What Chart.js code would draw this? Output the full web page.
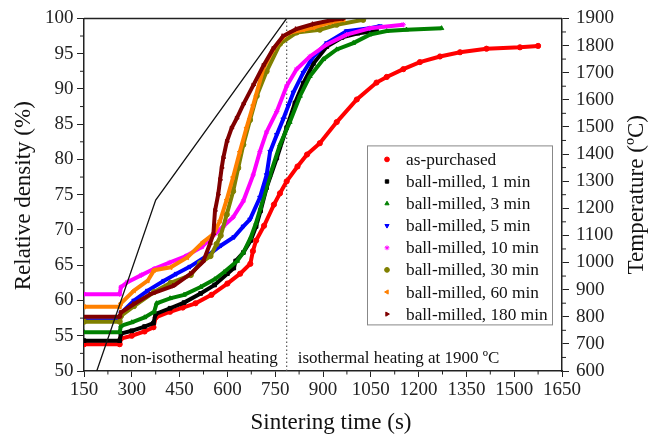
<!DOCTYPE html>
<html>
<head>
<meta charset="utf-8">
<script src="https://cdn.jsdelivr.net/npm/chart.js@4.4.1/dist/chart.umd.min.js"></script>
<style>
  html, body { margin: 0; padding: 0; background: #fff; }
  canvas { display: block; }
</style>
</head>
<body>
<canvas id="chart" width="650" height="437"></canvas>
<script>
// relative density (%) vs sintering time (s)
const asPurchasedTime = [150, 262, 266, 300, 340, 368, 375, 420, 460, 500, 550, 600, 640, 672, 680, 690, 715, 746, 765, 786, 820, 850, 890, 943, 1006, 1068, 1100, 1152, 1204, 1267, 1330, 1413, 1518, 1575];
const asPurchasedDensity = [53.8, 53.8, 54.6, 55.0, 55.6, 56.2, 57.6, 58.4, 59.0, 59.6, 60.8, 62.4, 63.8, 65.2, 67.0, 68.5, 70.6, 73.6, 75.2, 76.9, 79.0, 80.7, 82.3, 85.3, 88.5, 90.9, 91.7, 92.8, 93.8, 94.6, 95.2, 95.7, 95.9, 96.1];

const milled1Time = [150, 262, 266, 300, 340, 368, 375, 420, 464, 516, 560, 600, 620, 626, 650, 673, 690, 704, 723, 755, 786, 812, 838, 870, 912, 960, 1010, 1068];
const milled1Density = [54.3, 54.3, 55.3, 55.7, 56.3, 56.8, 58.1, 58.9, 59.7, 61.0, 62.2, 63.8, 64.6, 65.6, 66.8, 68.5, 70.5, 72.7, 76.0, 80.2, 84.5, 88.0, 90.8, 93.6, 96.0, 97.3, 97.9, 98.2];

const milled3Time = [150, 262, 266, 300, 340, 370, 378, 420, 464, 516, 560, 589, 631, 650, 673, 690, 704, 734, 765, 796, 828, 859, 901, 943, 995, 1047, 1100, 1162, 1272];
const milled3Density = [55.5, 55.5, 56.4, 56.9, 57.6, 58.4, 59.6, 60.3, 60.8, 61.9, 63.0, 64.0, 65.6, 66.8, 68.9, 71.0, 73.1, 77.8, 82.1, 85.3, 89.0, 91.8, 94.2, 95.6, 96.5, 97.7, 98.2, 98.4, 98.6];

const milled5Time = [150, 262, 266, 307, 350, 401, 440, 483, 545, 580, 621, 650, 671, 702, 723, 734, 755, 775, 791, 807, 838, 870, 912, 974, 1047, 1079];
const milled5Density = [57.2, 57.2, 58.2, 60.0, 61.4, 62.8, 63.8, 64.8, 66.6, 67.8, 69.0, 70.5, 71.5, 74.6, 77.8, 81.1, 83.5, 85.7, 87.6, 89.5, 92.3, 94.6, 96.5, 98.2, 98.6, 98.9];

const milled10Time = [150, 262, 266, 286, 330, 370, 420, 470, 520, 547, 589, 618, 650, 681, 702, 723, 755, 786, 817, 859, 912, 974, 1047, 1152];
const milled10Density = [60.9, 60.9, 61.9, 62.6, 63.6, 64.5, 65.4, 66.3, 67.6, 68.8, 70.6, 71.8, 74.1, 77.8, 81.1, 83.9, 86.8, 90.4, 92.8, 94.6, 96.3, 97.7, 98.6, 99.1];

const milled30Time = [150, 262, 266, 307, 370, 422, 485, 514, 547, 566, 579, 598, 618, 634, 650, 671, 692, 723, 765, 817, 890, 943, 1026];
const milled30Density = [57.0, 57.0, 57.8, 59.2, 61.2, 62.5, 63.6, 65.3, 66.3, 68.0, 69.2, 72.2, 75.5, 78.8, 82.1, 85.6, 89.0, 92.5, 96.4, 98.0, 98.4, 99.1, 99.8];

const milled60Time = [150, 262, 266, 307, 350, 370, 422, 474, 524, 556, 577, 598, 618, 639, 660, 681, 713, 744, 775, 796, 838, 870, 920, 965];
const milled60Density = [59.1, 59.1, 59.6, 61.4, 62.8, 64.3, 64.7, 66.1, 68.3, 69.4, 71.3, 74.3, 77.5, 81.1, 84.5, 87.7, 92.9, 95.6, 97.4, 98.0, 98.4, 98.7, 99.4, 99.8];

const milled180Time = [150, 262, 266, 307, 359, 432, 485, 524, 545, 556, 561, 571, 577, 582, 587, 598, 613, 629, 650, 681, 713, 744, 775, 817, 870, 932, 965];
const milled180Density = [57.7, 57.7, 58.3, 59.5, 60.9, 62.1, 63.8, 65.5, 68.0, 69.4, 72.7, 75.0, 77.1, 78.8, 80.2, 82.5, 84.4, 85.8, 87.8, 90.5, 93.3, 95.7, 97.5, 98.5, 99.2, 99.8, 100.0];

const seriesLabels = ['as-purchased', 'ball-milled, 1 min', 'ball-milled, 3 min', 'ball-milled, 5 min',
  'ball-milled, 10 min', 'ball-milled, 30 min', 'ball-milled, 60 min', 'ball-milled, 180 min'];

// furnace temperature program (right axis)
const tempTime = [190, 375, 786, 1650];
const tempValue = [600, 1230, 1900, 1900];

// start of the isothermal hold
const holdStart = 786;

const seriesData = [
  [asPurchasedTime, asPurchasedDensity],
  [milled1Time, milled1Density],
  [milled3Time, milled3Density],
  [milled5Time, milled5Density],
  [milled10Time, milled10Density],
  [milled30Time, milled30Density],
  [milled60Time, milled60Density],
  [milled180Time, milled180Density]
];

const colors = ['#ff0000', '#000000', '#008000', '#0000ff', '#ff00ff', '#808000', '#ff8000', '#800000'];
const shapes = ['circle', 'rect', 'triangle', 'triangle', 'star', 'circle', 'triangle', 'triangle'];
const rotations = [0, 0, 0, 180, 0, 0, -90, 90];

const serif = '"Liberation Serif", "Times New Roman", serif';

const toPoints = (xs, ys) => xs.map((x, i) => ({ x: x, y: ys[i] }));

const datasets = seriesData.map(([t, d], i) => ({
  label: seriesLabels[i],
  data: toPoints(t, d),
  yAxisID: 'y',
  showLine: true,
  borderColor: colors[i],
  backgroundColor: colors[i],
  borderWidth: 4,
  pointStyle: shapes[i],
  pointRotation: rotations[i],
  pointRadius: 2.6,
  pointBorderWidth: 1,
  order: 9 - i
}));

datasets.push({
  label: 'temperature',
  data: toPoints(tempTime, tempValue),
  yAxisID: 'y1',
  showLine: true,
  borderColor: '#111',
  borderWidth: 1.3,
  pointRadius: 0,
  order: 0
});

datasets.push({
  label: 'hold',
  data: [{ x: holdStart, y: 50 }, { x: holdStart, y: 100 }],
  yAxisID: 'y',
  showLine: true,
  borderColor: '#555',
  borderWidth: 1.2,
  borderDash: [1.5, 2.5],
  pointRadius: 0,
  order: 20
});

const tickFont = { family: serif, size: 19 };
const plain = (v) => String(v);

// minor ticks, frame top, text notes, legend box and axis titles
const decorations = {
  id: 'decorations',
  afterDraw(chart) {
    const { ctx, chartArea: a, scales } = chart;
    const { x, y, y1 } = scales;
    ctx.save();

    ctx.strokeStyle = '#222';
    ctx.lineWidth = 1.5;
    ctx.beginPath();
    ctx.moveTo(a.left, a.top);
    ctx.lineTo(a.right, a.top);
    ctx.stroke();

    ctx.lineWidth = 1;
    ctx.beginPath();
    for (let v = 225; v < 1650; v += 150) {
      const px = x.getPixelForValue(v);
      ctx.moveTo(px, a.bottom);
      ctx.lineTo(px, a.bottom + 3.5);
    }
    for (let v = 52.5; v < 100; v += 5) {
      const py = y.getPixelForValue(v);
      ctx.moveTo(a.left, py);
      ctx.lineTo(a.left - 4, py);
    }
    for (let v = 650; v < 1900; v += 100) {
      const py = y1.getPixelForValue(v);
      ctx.moveTo(a.right, py);
      ctx.lineTo(a.right + 4, py);
    }
    ctx.stroke();

    // region notes
    const hx = x.getPixelForValue(holdStart);
    const noteY = y.getPixelForValue(51.1);
    ctx.fillStyle = '#111';
    ctx.font = '17px ' + serif;
    ctx.textBaseline = 'alphabetic';
    ctx.textAlign = 'right';
    ctx.fillText('non-isothermal heating', hx - 9, noteY);
    ctx.textAlign = 'left';
    ctx.fillText('isothermal heating at 1900 ºC', hx + 11, noteY);

    // legend
    const boxW = 185, boxH = 179;
    const bx = a.right - 10 - boxW;
    const by = a.top + 127;
    ctx.fillStyle = '#fff';
    ctx.fillRect(bx, by, boxW, boxH);
    ctx.strokeStyle = '#888';
    ctx.lineWidth = 1;
    ctx.strokeRect(bx + 0.5, by + 0.5, boxW, boxH);
    seriesLabels.forEach((label, i) => {
      const ry = by + 14 + i * 22.1;
      ctx.fillStyle = colors[i];
      ctx.strokeStyle = colors[i];
      Chart.helpers.drawPoint(ctx, {
        pointStyle: shapes[i], rotation: rotations[i], radius: 2.4, borderWidth: 1
      }, bx + 20, ry);
      ctx.fillStyle = '#111';
      ctx.font = '17.3px ' + serif;
      ctx.textAlign = 'left';
      ctx.textBaseline = 'middle';
      ctx.fillText(label, bx + 39, ry + 1);
    });

    // axis titles
    ctx.fillStyle = '#111';
    ctx.font = '23px ' + serif;
    ctx.textBaseline = 'alphabetic';
    ctx.textAlign = 'center';
    ctx.fillText('Sintering time (s)', (a.left + a.right) / 2 + 8, 429);

    ctx.save();
    ctx.translate(30, (a.top + a.bottom) / 2 + 1);
    ctx.rotate(-Math.PI / 2);
    ctx.fillText('Relative density (%)', 0, 0);
    ctx.restore();

    ctx.save();
    ctx.translate(643, (a.top + a.bottom) / 2);
    ctx.rotate(-Math.PI / 2);
    ctx.fillText('Temperature (ºC)', 0, 0);
    ctx.restore();

    ctx.restore();
  }
};

new Chart(document.getElementById('chart'), {
  type: 'scatter',
  data: { datasets: datasets },
  options: {
    responsive: false,
    animation: false,
    events: [],
    layout: { padding: { top: 16, left: 0, right: 0, bottom: 0 } },
    plugins: {
      legend: { display: false },
      tooltip: { enabled: false }
    },
    elements: { line: { tension: 0 } },
    scales: {
      x: {
        type: 'linear',
        min: 150,
        max: 1650,
        afterFit: (s) => { s.height = 66; },
        ticks: { stepSize: 150, font: tickFont, color: '#222', padding: 2, autoSkip: false, maxRotation: 0, callback: plain },
        grid: { drawOnChartArea: false, drawTicks: true, tickLength: 6, color: '#222', lineWidth: 1 },
        border: { display: true, color: '#222', width: 1.5 },
        title: { display: false }
      },
      y: {
        position: 'left',
        min: 50,
        max: 100,
        afterFit: (s) => { s.width = 84; },
        ticks: { stepSize: 5, font: tickFont, color: '#222', padding: 3.5, callback: plain },
        grid: { drawOnChartArea: false, drawTicks: true, tickLength: 7, color: '#222', lineWidth: 1 },
        border: { display: true, color: '#222', width: 1.5 }
      },
      y1: {
        position: 'right',
        min: 600,
        max: 1900,
        afterFit: (s) => { s.width = 88; },
        ticks: { stepSize: 100, font: tickFont, color: '#222', padding: 7, callback: plain },
        grid: { drawOnChartArea: false, drawTicks: true, tickLength: 7, color: '#222', lineWidth: 1 },
        border: { display: true, color: '#222', width: 1.5 }
      }
    }
  },
  plugins: [decorations]
});
</script>
</body>
</html>
